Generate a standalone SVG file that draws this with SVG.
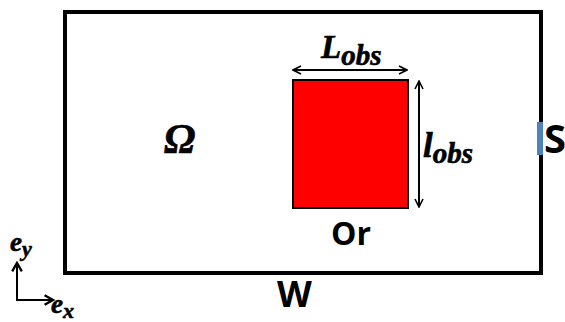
<svg xmlns="http://www.w3.org/2000/svg" width="565" height="322" viewBox="0 0 565 322">
<defs>
<marker id="ah" viewBox="0 0 10 10" refX="9" refY="5" markerWidth="10" markerHeight="10" markerUnits="userSpaceOnUse" orient="auto-start-reverse">
<path d="M1,1 L9,5 L1,9" fill="none" stroke="#000" stroke-width="1.6"/>
</marker>
<marker id="ahb" viewBox="0 0 10 10" refX="8" refY="5" markerWidth="12" markerHeight="12" markerUnits="userSpaceOnUse" orient="auto">
<path d="M1,1 L8,5 L1,9" fill="none" stroke="#000" stroke-width="2"/>
</marker>
</defs>
<style>
.sans{font-family:"Open Sans","Liberation Sans",sans-serif;font-weight:bold;fill:#000}
.math{font-family:"Liberation Serif","DejaVu Serif",serif;font-weight:bold;font-style:italic;fill:#000;stroke:#000;stroke-width:0.6}
.dim{stroke:#000;stroke-width:2;fill:none}
</style>
<rect width="565" height="322" fill="#fff"/>
<g id="domain">
<rect x="65" y="12" width="476" height="261" fill="none" stroke="#000" stroke-width="4"/>
<text class="math" x="164" y="153" font-size="42">Ω</text>
</g>
<g id="obstacle">
<rect x="293" y="80" width="115" height="128" fill="#ff0000" stroke="#000" stroke-width="2"/>
<text class="sans" x="331" y="245" font-size="32">Or</text>
</g>
<g id="outlet">
<rect x="537" y="122" width="6" height="33" fill="#4f81bd"/>
<text class="sans" x="544" y="153" font-size="40">S</text>
</g>
<g id="wall">
<text class="sans" x="277" y="307" font-size="36">W</text>
</g>
<g id="connectors">
<line class="dim" x1="293" y1="70" x2="407" y2="70" marker-start="url(#ah)" marker-end="url(#ah)"/>
<line class="dim" x1="419" y1="81" x2="419" y2="207" marker-start="url(#ah)" marker-end="url(#ah)"/>
<line x1="17" y1="300" x2="17" y2="263" stroke="#000" stroke-width="2" marker-end="url(#ahb)"/>
<line x1="16" y1="300" x2="53" y2="300" stroke="#000" stroke-width="2" marker-end="url(#ahb)"/>
</g>
<g id="labels">
<text class="math" x="321" y="58" font-size="33">L<tspan font-size="29" dy="7">obs</tspan></text>
<text class="math" x="423" y="157" font-size="35">l<tspan font-size="29" dy="6">obs</tspan></text>
<text class="math" x="10" y="251" font-size="27">e<tspan font-size="22" dy="5">y</tspan></text>
<text class="math" x="51" y="313" font-size="27">e<tspan font-size="22" dy="5">x</tspan></text>
</g>
</svg>
